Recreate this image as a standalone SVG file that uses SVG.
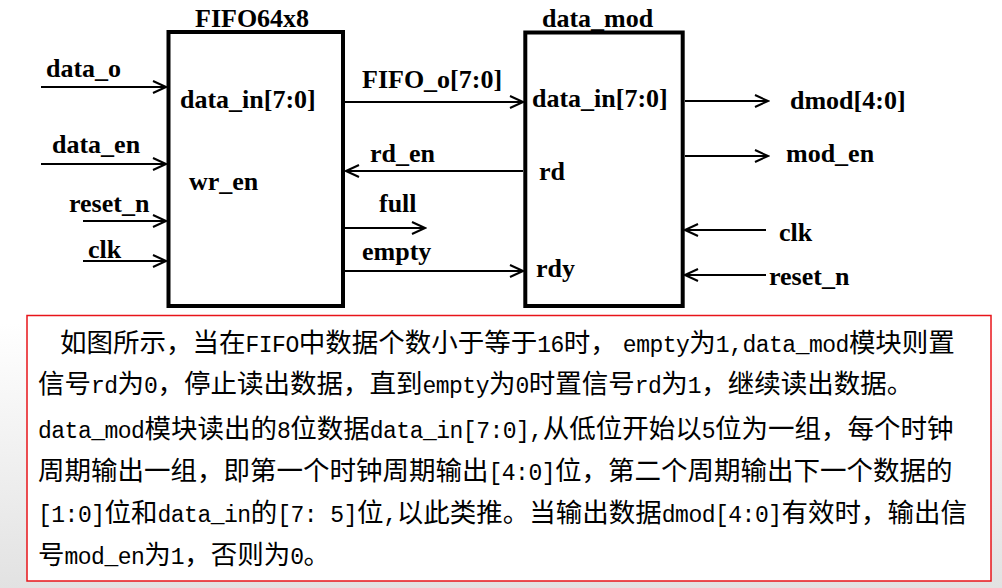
<svg xmlns="http://www.w3.org/2000/svg" width="1002" height="588" viewBox="0 0 1002 588">
  <defs>
    <linearGradient id="bg" x1="0" y1="0" x2="0" y2="1">
      <stop offset="0" stop-color="#ffffff"/>
      <stop offset="0.55" stop-color="#ffffff"/>
      <stop offset="1" stop-color="#e2e2e2"/>
    </linearGradient>
    <marker id="arr" markerUnits="userSpaceOnUse" viewBox="0 0 16 14" refX="14" refY="7" markerWidth="16" markerHeight="14" orient="auto">
      <path d="M1,1 L14,7 L1,13" fill="none" stroke="#000" stroke-width="2"/>
    </marker>
    <style>
      .lbl { font-family: "Liberation Serif", "Times New Roman", serif; font-weight: bold; font-size: 26px; fill: #000; }
      .box { fill: #fff; stroke: #000; stroke-width: 4; }
      .wire { stroke: #000; stroke-width: 2; fill: none; }
      .arrow { marker-end: url(#arr); }
      .para { font-family: "Noto Sans CJK SC", sans-serif; font-size: 26.5px; fill: #000; }
      .lt { font-family: "Liberation Mono", "Courier New", monospace; font-size: 23px; letter-spacing: -0.5px; }
    </style>
  </defs>

  <rect x="0" y="0" width="1002" height="588" fill="url(#bg)"/>

  <g id="fifo">
    <rect class="box" x="168.5" y="32" width="174.5" height="274"/>
    <text class="lbl" x="195" y="27">FIFO64x8</text>
    <text class="lbl" x="180" y="108">data_in[7:0]</text>
    <text class="lbl" x="189" y="190">wr_en</text>
  </g>

  <g id="data_mod">
    <rect class="box" x="525.3" y="32.5" width="157.4" height="273.5"/>
    <text class="lbl" x="542" y="27">data_mod</text>
    <text class="lbl" x="532" y="107">data_in[7:0]</text>
    <text class="lbl" x="539" y="180">rd</text>
    <text class="lbl" x="536" y="277">rdy</text>
  </g>

  <g id="connectors">
    <line class="wire arrow" x1="41" y1="87" x2="166" y2="87"/>
    <line class="wire arrow" x1="41" y1="164" x2="166" y2="164"/>
    <line class="wire arrow" x1="83" y1="221" x2="166" y2="221"/>
    <line class="wire arrow" x1="83" y1="261" x2="166" y2="261"/>

    <line class="wire arrow" x1="345" y1="102" x2="523" y2="102"/>
    <line class="wire arrow" x1="523" y1="171" x2="346" y2="171"/>
    <line class="wire arrow" x1="345" y1="228" x2="425" y2="228"/>
    <line class="wire arrow" x1="345" y1="271" x2="523" y2="271"/>

    <line class="wire arrow" x1="685" y1="101" x2="768" y2="101"/>
    <line class="wire arrow" x1="685" y1="156" x2="768" y2="156"/>
    <line class="wire arrow" x1="766" y1="230" x2="685" y2="230"/>
    <line class="wire arrow" x1="766" y1="275" x2="685" y2="275"/>
  </g>

  <g id="signal-labels">
    <text class="lbl" x="46" y="77">data_o</text>
    <text class="lbl" x="52" y="153">data_en</text>
    <text class="lbl" x="69" y="212">reset_n</text>
    <text class="lbl" x="88" y="258">clk</text>
    <text class="lbl" x="362" y="88">FIFO_o[7:0]</text>
    <text class="lbl" x="370" y="162">rd_en</text>
    <text class="lbl" x="379" y="212">full</text>
    <text class="lbl" x="362" y="260">empty</text>
    <text class="lbl" x="790" y="109">dmod[4:0]</text>
    <text class="lbl" x="786" y="162">mod_en</text>
    <text class="lbl" x="779" y="241">clk</text>
    <text class="lbl" x="769" y="285">reset_n</text>
  </g>

  <g id="note">
    <rect x="27" y="315.5" width="964" height="265.5" fill="#fff" stroke="#e8141a" stroke-width="1.5"/>
    <text class="para" x="60" y="352">如图所示，当在<tspan class="lt">FIFO</tspan>中数据个数小于等于<tspan class="lt">16</tspan>时，<tspan class="lt" dx="6">empty</tspan>为<tspan class="lt">1,data_mod</tspan>模块则置</text>
    <text class="para" x="38" y="393">信号<tspan class="lt">rd</tspan>为<tspan class="lt">0</tspan>，停止读出数据，直到<tspan class="lt">empty</tspan>为<tspan class="lt">0</tspan>时置信号<tspan class="lt">rd</tspan>为<tspan class="lt">1</tspan>，继续读出数据。</text>
    <text class="para" x="38" y="438"><tspan class="lt">data_mod</tspan>模块读出的<tspan class="lt">8</tspan>位数据<tspan class="lt">data_in[7:0],</tspan>从低位开始以<tspan class="lt">5</tspan>位为一组，每个时钟</text>
    <text class="para" x="38" y="480">周期输出一组，即第一个时钟周期输出<tspan class="lt">[4:0]</tspan>位，第二个周期输出下一个数据的</text>
    <text class="para" x="38" y="522"><tspan class="lt">[1:0]</tspan>位和<tspan class="lt">data_in</tspan>的<tspan class="lt">[7: 5]</tspan>位<tspan class="lt">,</tspan>以此类推。当输出数据<tspan class="lt">dmod[4:0]</tspan>有效时，输出信</text>
    <text class="para" x="38" y="564">号<tspan class="lt">mod_en</tspan>为<tspan class="lt">1</tspan>，否则为<tspan class="lt">0</tspan>。</text>
  </g>
</svg>
